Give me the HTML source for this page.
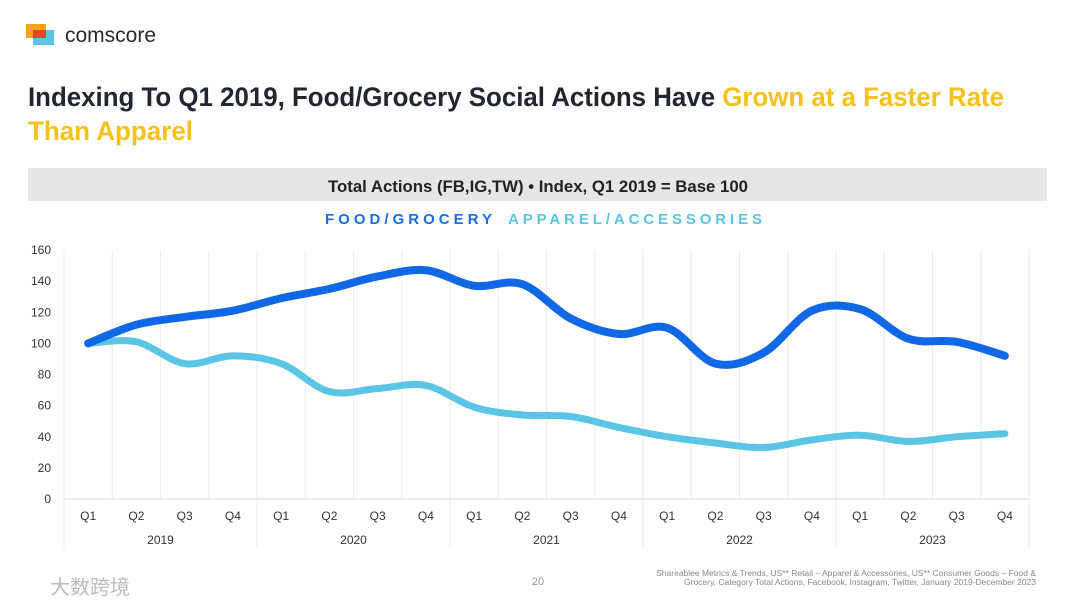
<!DOCTYPE html>
<html><head><meta charset="utf-8"><style>
html,body{margin:0;padding:0;background:#fff;width:1080px;height:608px;overflow:hidden}
svg{display:block;font-family:"Liberation Sans","Noto Sans CJK SC",sans-serif}
</style></head><body>
<svg id="chart" width="1080" height="608" viewBox="0 0 1080 608">
<g>
<rect x="26" y="24" width="20" height="14" fill="#f7a21b"/>
<rect x="33" y="30" width="21" height="15" fill="#5bc5e6"/>
<rect x="33" y="30" width="13" height="8" fill="#e8412c"/>
<text x="65" y="42" font-size="21" fill="#2a2a2a">comscore</text>
</g>
<text x="28" y="106" font-size="27" font-weight="bold" fill="#222631" textLength="976" lengthAdjust="spacingAndGlyphs">Indexing To Q1 2019, Food/Grocery Social Actions Have <tspan fill="#f5c21b">Grown at a Faster Rate</tspan></text>
<text x="28" y="140" font-size="27" font-weight="bold" fill="#f5c21b" textLength="165" lengthAdjust="spacingAndGlyphs">Than Apparel</text>
<rect x="28" y="168" width="1019" height="33" fill="#e6e6e6"/>
<text x="538" y="192" font-size="17" font-weight="bold" fill="#222" text-anchor="middle" textLength="420" lengthAdjust="spacingAndGlyphs">Total Actions (FB,IG,TW) • Index, Q1 2019 = Base 100</text>
<text x="325" y="224" font-size="15" font-weight="bold" fill="#1a6fe0" textLength="167" lengthAdjust="spacing">FOOD/GROCERY</text>
<text x="508" y="224" font-size="15" font-weight="bold" fill="#5bc5e6" textLength="254" lengthAdjust="spacing">APPAREL/ACCESSORIES</text>
<g id="grid"></g><g id="axes"></g><g id="lines"></g>
<text x="538" y="585" font-size="11" fill="#999" text-anchor="middle">20</text>
<text x="1036" y="576" font-size="8.5" fill="#888" text-anchor="end">Shareablee Metrics &amp; Trends, US** Retail – Apparel &amp; Accessories, US** Consumer Goods – Food &amp;</text>
<text x="1036" y="585" font-size="8.5" fill="#888" text-anchor="end">Grocery, Category Total Actions, Facebook, Instagram, Twitter, January 2019-December 2023</text>
<text x="50" y="594" font-size="20" fill="#bbb">大数跨境</text>
</svg>
<script>
const quarters=["Q1","Q2","Q3","Q4"];
const years=["2019","2020","2021","2022","2023"];
const yTicks=[0,20,40,60,80,100,120,140,160];
const foodValues=[100,112,117,121,129,135,143,147,137,138,116,106,110,87,94,121,122,103,101,92];
const apparelValues=[100,101,87,92,87,69,71,73,59,54,53,46,40,36,33,38,41,37,40,42];
const NS="http://www.w3.org/2000/svg";
const L=64,R=1029,Y0=499,Y1=250,n=foodValues.length,step=(R-L)/n;
const x=i=>L+step*(i+0.5), y=v=>Y0-(v/160)*(Y0-Y1);
function mk(t,a,p){const e=document.createElementNS(NS,t);for(const k in a)e.setAttribute(k,a[k]);p.appendChild(e);return e;}
const grid=document.getElementById('grid'),axes=document.getElementById('axes'),lines=document.getElementById('lines');
for(let i=0;i<=n;i++){const g=mk('line',{x1:L+step*i,x2:L+step*i,y1:Y1,y2:i%4==0?548:Y0,stroke:'#ececec','stroke-width':1},grid);

}
const base=mk('line',{x1:L,x2:R,y1:Y0,y2:Y0,stroke:'#d8d8d8'},grid);


yTicks.forEach(v=>{const t=mk('text',{x:51,y:y(v)+4,'font-size':12,fill:'#333','text-anchor':'end'},axes);t.textContent=v;

});
for(let i=0;i<n;i++){const t=mk('text',{x:x(i),y:520,'font-size':12,fill:'#333','text-anchor':'middle'},axes);t.textContent=quarters[i%4];

}
years.forEach((yr,j)=>{const t=mk('text',{x:L+step*(4*j+2),y:544,'font-size':12,fill:'#333','text-anchor':'middle'},axes);t.textContent=yr;

});
function path(vals){const p=vals.map((v,i)=>[x(i),y(v)]);let d=`M${p[0][0]},${p[0][1]}`;
for(let i=0;i<p.length-1;i++){const p0=p[i-1]||p[i],p1=p[i],p2=p[i+1],p3=p[i+2]||p2;
d+=` C${p1[0]+(p2[0]-p0[0])/6},${p1[1]+(p2[1]-p0[1])/6} ${p2[0]-(p3[0]-p1[0])/6},${p2[1]-(p3[1]-p1[1])/6} ${p2[0]},${p2[1]}`;}return d;}
const a=mk('path',{d:path(apparelValues),fill:'none',stroke:'#5bc5e6','stroke-width':7,'stroke-linecap':'round'},lines);


const f=mk('path',{d:path(foodValues),fill:'none',stroke:'#1068e6','stroke-width':8,'stroke-linecap':'round'},lines);


</script>
</body></html>
